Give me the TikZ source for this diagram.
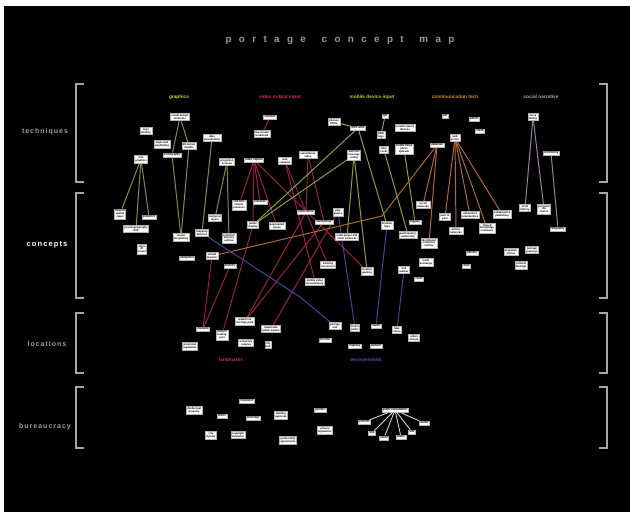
\documentclass[tikz,border=0pt]{standalone}
\usepackage{fontspec}
\setmainfont{Liberation Sans}
\usepackage{tikz}
\pgfdeclarelayer{bg}
\pgfdeclarelayer{edgelayer}
\pgfsetlayers{bg,edgelayer,main}
\definecolor{grhead}{HTML}{D8D040}
\definecolor{grline}{HTML}{8C8A4A}
\definecolor{vihead}{HTML}{D03050}
\definecolor{viline}{HTML}{9A2040}
\definecolor{mohead}{HTML}{B0D040}
\definecolor{moline}{HTML}{8CA040}
\definecolor{cohead}{HTML}{E08A30}
\definecolor{coline}{HTML}{B06A30}
\definecolor{sohead}{HTML}{B8A0B8}
\definecolor{soline}{HTML}{A080A0}
\definecolor{enline}{HTML}{45459A}
\definecolor{enhead}{HTML}{5A50C0}
\def\boxfont{\fontsize{1.9}{2.1}\selectfont\bfseries}
\def\headfont{\fontsize{3.4}{4}\selectfont\bfseries}
\def\rowfont{\fontsize{5}{6}\selectfont\bfseries\addfontfeature{LetterSpace=14}}

\begin{document}
\begin{tikzpicture}[x=0.025cm, y=-0.025cm,
  box/.style={draw=gray!60, fill=white, line width=0.3pt, inner sep=0.7pt, font=\boxfont, align=center, text=black},
  gline/.style={draw=grline, line width=0.7pt},
  vline/.style={draw=viline, line width=0.7pt},
  mline/.style={draw=moline, line width=0.7pt},
  cline/.style={draw=coline, line width=0.7pt},
  sline/.style={draw=soline, line width=0.7pt},
  eline/.style={draw=enline, line width=0.7pt},
  bline/.style={draw=white!85!black, line width=0.6pt},
  brk/.style={draw=gray!70, line width=0.8pt},
  head/.style={font=\headfont},
  rowlab/.style={font=\rowfont, text=gray!75}]
	%%%%% BACKGROUND %%%%%
	\useasboundingbox (0,0) rectangle (630,512);
	\begin{pgfonlayer}{bg}
		\fill[white] (0,0) rectangle (630,512);
		\fill[black] (4,6) rectangle (630,512);
	\end{pgfonlayer}
	
	\node[font=\fontsize{7}{8}\selectfont\bfseries\addfontfeature{LetterSpace=75}, text=gray!80] (title) at (340,40) {portage\hspace{4pt} concept\hspace{4pt} map};
	
	%%%%% BRACKETS AND ROWS %%%%%
	\foreach \ya/\yb in {84/182,193/298,313/373,387/448} {
		\draw[brk] (84,\ya) -- (76,\ya) -- (76,\yb) -- (84,\yb);
		\draw[brk] (599,\ya) -- (607,\ya) -- (607,\yb) -- (599,\yb);
	}
	\node[rowlab] (rtech) at (45,132) {techniques};
	\node[rowlab, text=white, font=\fontsize{5.4}{6}\selectfont\bfseries\addfontfeature{LetterSpace=14}] (rconc) at (47,245) {concepts};
	\node[rowlab] (rloc) at (47,344) {locations};
	\node[rowlab] (rbur) at (45,427) {bureaucracy};
	
	\node[head, text=grhead] (hgr) at (179,97) {graphics};
	\node[head, text=vihead] (hvi) at (280,97) {video output input};
	\node[head, text=mohead] (hmo) at (372,97) {mobile device input};
	\node[head, text=cohead] (hco) at (455,97) {communication tech};
	\node[head, text=sohead] (hso) at (541,97) {social narrative};
	
	%%%%% TECHNIQUES %%%%%
	\node[box] (g1) at (180,117) {visual design\\elements};
	\node[box] (g2) at (146,131) {logo\\identity};
	\node[box] (g3) at (162,144) {maps and\\wayfinding};
	\node[box] (g4) at (172,155) {iconography};
	\node[box] (g5) at (189,146) {3D terrain\\models};
	\node[box] (g6) at (141,159) {info\\graphics};
	\node[box] (g7) at (212,138) {data\\visualization};
	\node[box] (g8) at (227,162) {projection\\screens};
	
	\node[box] (v1) at (270,117) {cameras};
	\node[box] (v2) at (262,134) {live stream\\broadcast};
	\node[box] (v4) at (254,160) {video capture};
	\node[box] (v5) at (285,161) {web\\cameras};
	\node[box] (v6) at (308,155) {surveillance\\video};
	
	\node[box] (m1) at (334,122) {phones\\PDAs};
	\node[box] (m2) at (358,128) {GPS units};
	\node[box] (m3) at (385,116) {QR};
	\node[box] (m4) at (381,135) {RFID\\tags};
	\node[box] (m5) at (405,128) {location aware\\devices};
	\node[box] (m6) at (354,155) {sms text\\message\\voting};
	\node[box] (m7) at (384,150) {blue\\tooth};
	\node[box] (m8) at (404,149) {mobile blogs\\photo\\uploads};
	
	\node[box] (t1) at (445,116) {wifi};
	\node[box] (t2) at (474,119) {wimax};
	\node[box] (t3) at (480,131) {mesh};
	\node[box] (t4) at (455,138) {web\\server};
	\node[box] (t5) at (437,145) {database};
	
	\node[box] (s1) at (533,117) {story\\telling};
	\node[box] (s2) at (551,153) {oral history};
	
	%%%%% CONCEPTS %%%%%
	\node[box] (c1) at (120,214) {layered\\spatial\\maps};
	\node[box] (c2) at (149,217) {semiotics};
	\node[box] (c3) at (136,229) {psychogeography\\drift};
	\node[box] (c4) at (142,249) {signs\\of\\travel};
	\node[box] (c5) at (181,237) {visual\\storytelling};
	\node[box] (c6) at (202,233) {mapping\\memory};
	\node[box] (c7) at (215,218) {temporal\\layers};
	\node[box] (c8) at (229,238) {collective\\memory\\archive};
	\node[box] (c9) at (239,205) {real time\\remote\\presence};
	\node[box] (c10) at (260,202) {presence};
	\node[box] (c11) at (253,225) {public\\display};
	\node[box] (c12) at (277,226) {augmented\\space};
	\node[box] (c13) at (306,212) {observation};
	\node[box] (c14) at (324,222) {surveillance};
	\node[box] (c15) at (338,212) {play\\games};
	\node[box] (c16) at (187,258) {navigation};
	\node[box] (c17) at (212,256) {virtual\\tourism};
	\node[box] (c18) at (230,266) {itinerary};
	\node[box] (c19) at (328,265) {tracking\\movement};
	\node[box] (c20) at (315,282) {mobile video\\documentary};
	\node[box] (c21) at (347,237) {multi-player and\\mesh networks};
	\node[box] (c22) at (387,225) {location\\tags};
	\node[box] (c23) at (415,222) {tagging};
	\node[box] (c24) at (423,205) {social\\networks};
	\node[box] (c25) at (408,235) {participatory\\authorship};
	\node[box] (c26) at (445,217) {peer to\\peer};
	\node[box] (c27) at (470,215) {networked\\communities};
	\node[box] (c28) at (502,214) {collaborative\\publishing};
	\node[box] (c29) at (456,231) {ad hoc\\networks};
	\node[box] (c30) at (487,228) {shared\\knowledge\\commons};
	\node[box] (c31) at (429,243) {distributed\\collective\\archive};
	\node[box] (c32) at (525,208) {local\\history};
	\node[box] (c33) at (544,209) {personal\\life\\stories};
	\node[box] (c34) at (558,229) {biography};
	\node[box] (c35) at (472,253) {identity};
	\node[box] (c36) at (511,252) {migration\\stories};
	\node[box] (c37) at (532,250) {portage\\journeys};
	\node[box] (c38) at (521,265) {cultural\\heritage};
	\node[box] (c39) at (466,266) {ritual};
	\node[box] (c40) at (426,262) {trade\\exchange};
	\node[box] (c41) at (404,270) {trail\\marker};
	\node[box] (c42) at (419,279) {route};
	\node[box] (c43) at (367,271) {locative\\gaming};
	
	%%%%% LOCATIONS %%%%%
	\node[box] (l1) at (203,329) {museum};
	\node[box] (l2) at (222,335) {historic\\trading\\post};
	\node[box] (l3) at (245,321) {waterfront\\heritage park};
	\node[box] (l4) at (271,329) {downtown\\public square};
	\node[box] (l5) at (246,343) {university\\campus};
	\node[box] (l6) at (268,345) {city\\hall};
	\node[box] (l7) at (190,346) {provincial\\legislature};
	\node[box] (e1) at (335,326) {portage\\trail};
	\node[box] (e2) at (325,340) {the river};
	\node[box] (e3) at (355,328) {forest\\paths};
	\node[box] (e4) at (376,326) {rapids};
	\node[box] (e5) at (397,330) {lake\\shore};
	\node[box] (e6) at (414,338) {urban\\streets};
	\node[box] (e7) at (355,346) {highway};
	\node[box] (e8) at (376,346) {wetland};
	\node[head, text=vihead] (hland) at (231,360) {landmarks};
	\node[head, text=enhead] (henv) at (366,360) {environments};
	
	%%%%% BUREAUCRACY %%%%%
	\node[box] (b1) at (194,410) {intellectual\\property};
	\node[box] (b2) at (222,416) {ethics};
	\node[box] (b3) at (247,401) {insurance};
	\node[box] (b4) at (253,418) {licensing};
	\node[box] (b5) at (281,415) {funding\\agencies};
	\node[box] (b6) at (320,410) {permits};
	\node[box] (b7) at (211,435) {city\\bylaws};
	\node[box] (b8) at (238,435) {copyright\\clearance};
	\node[box] (b9) at (288,440) {partnership\\agreements};
	\node[box] (b10) at (325,430) {privacy\\legislation};
	\node[box] (b11) at (395,410) {public consultation};
	\node[box] (b12) at (364,422) {schools};
	\node[box] (b13) at (372,433) {ngo};
	\node[box] (b14) at (384,438) {youth};
	\node[box] (b15) at (401,437) {elders};
	\node[box] (b16) at (412,432) {arts};
	\node[box] (b17) at (424,423) {media};
	
	%%%%% CONNECTORS %%%%%
	\begin{pgfonlayer}{edgelayer}
	\draw[gline] (g1) -- (g4);
	\draw[gline] (g1) -- (g5);
	\draw[gline] (g4) -- (c5);
	\draw[gline] (g5) -- (c5);
	\draw[gline] (g6) -- (c1);
	\draw[gline] (g6) -- (c3);
	\draw[gline] (g6) -- (c2);
	\draw[gline] (g7) -- (c6);
	\draw[gline] (g8) -- (c7);
	\draw[gline] (g8) -- (c8);
	
	\draw[vline] (v1) -- (v2);
	\foreach \n in {c9,c11,c10,c12,c43} \draw[vline] (v4) -- (\n);
	\foreach \n in {c20,c19} \draw[vline] (v5) -- (\n);
	\foreach \n in {c13,c14} \draw[vline] (v6) -- (\n);
	\draw[vline] (c17) -- (l1);
	\draw[vline] (c18) -- (l1);
	\draw[vline] (c11) -- (l2);
	\draw[vline] (c13) -- (l3);
	\draw[vline] (c14) -- (l3);
	\draw[vline] (c15) -- (l4);
	
	\draw[mline] (m1) -- (m2);
	\draw[mline] (m3) -- (m4);
	\draw[mline] (m2) -- (c11);
	\draw[mline] (m2) -- (c22);
	\draw[mline] (m6) -- (c11);
	\draw[mline] (m6) -- (c21);
	\draw[mline] (m6) -- (c43);
	\draw[mline] (m7) -- (c25);
	\draw[mline] (m8) -- (c23);
	
	\coordinate (k1) at (382,216);
	\draw[cline] (t5) -- (k1) -- (c17);
	\draw[cline] (t5) -- (c24);
	\draw[cline] (t5) -- (c31);
	\foreach \n in {c26,c29,c27,c30,c28} \draw[cline] (t4) -- (\n);
	
	\draw[sline] (s1) -- (c32);
	\draw[sline] (s1) -- (c33);
	\draw[sline] (s2) -- (c34);
	
	\coordinate (k2) at (300,297);
	\draw[eline] (c6) -- (k2) -- (e1);
	\draw[eline] (c15) -- (e3);
	\draw[eline] (c22) -- (e4);
	\draw[eline] (c41) -- (e5);
	
	\foreach \n in {b12,b13,b14,b15,b16,b17} \draw[bline] (b11) -- (\n);
	\end{pgfonlayer}
\end{tikzpicture}
\end{document}
